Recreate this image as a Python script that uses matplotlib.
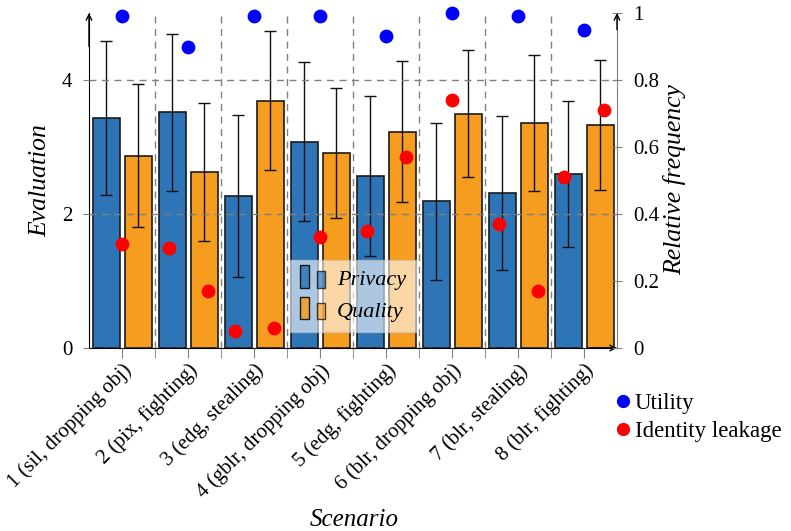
import matplotlib
matplotlib.use("Agg")
import matplotlib.pyplot as plt
import numpy as np
from matplotlib.legend_handler import HandlerBase
from matplotlib.lines import Line2D
from matplotlib.patches import Rectangle

plt.rcParams["font.family"] = ["Liberation Serif", "DejaVu Serif"]

scenarios = [
    "1 (sil, dropping obj)",
    "2 (pix, fighting)",
    "3 (edg, stealing)",
    "4 (gblr, dropping obj)",
    "5 (edg, fighting)",
    "6 (blr, dropping obj)",
    "7 (blr, stealing)",
    "8 (blr, fighting)",
]
privacy_mean = [3.43, 3.52, 2.27, 3.08, 2.57, 2.19, 2.31, 2.60]
privacy_std = [1.15, 1.17, 1.21, 1.19, 1.19, 1.17, 1.15, 1.09]
quality_mean = [2.87, 2.62, 3.69, 2.91, 3.23, 3.50, 3.36, 3.33]
quality_std = [1.07, 1.03, 1.04, 0.97, 1.05, 0.95, 1.02, 0.97]
utility = [0.99, 0.90, 0.99, 0.99, 0.93, 1.00, 0.99, 0.95]
leak_x = [0, 0.71, 1.30, 1.71, 2.30, 3.0, 3.71, 4.30, 5.0, 5.71, 6.30, 6.70, 7.30]
leak_y = [0.31, 0.30, 0.17, 0.05, 0.06, 0.33, 0.35, 0.57, 0.74, 0.37, 0.17, 0.51, 0.71]

BLUE = "#2e75b8"
ORANGE = "#f69c1f"


class TwoBars(HandlerBase):
    # pgfplots style ybar legend glyph: two small bars
    def create_artists(self, legend, orig_handle, xdescent, ydescent,
                       width, height, fontsize, trans):
        fc = orig_handle.get_facecolor()
        w = width * 0.33
        y0 = -ydescent - 0.15 * height
        a = Rectangle((-xdescent, y0), w, height * 1.45, facecolor=fc,
                      edgecolor="black", lw=1, alpha=0.85, transform=trans)
        b = Rectangle((-xdescent + width * 0.62, y0), w, height * 1.05,
                      facecolor=fc, edgecolor="black", lw=1, alpha=0.7,
                      transform=trans)
        return [a, b]


fig = plt.figure(figsize=(7.91, 5.31), dpi=100)
ax = fig.add_axes([0.1125, 0.3446, 0.6675, 0.6309])
ax2 = ax.twinx()

x = np.arange(len(scenarios))
err_kw = dict(elinewidth=1, capthick=1, ecolor="#111111")
ax.bar(x - 0.24, privacy_mean, 0.41, yerr=privacy_std, color=BLUE,
       edgecolor="#1a1a1a", lw=1.2, capsize=4, error_kw=err_kw)
ax.bar(x + 0.245, quality_mean, 0.41, yerr=quality_std, color=ORANGE,
       edgecolor="#1a1a1a", lw=1.2, capsize=4, error_kw=err_kw)

ax2.scatter(x, utility, s=80, color="blue", zorder=5, clip_on=False)
ax2.scatter(leak_x, leak_y, s=80, color="red", zorder=5, clip_on=False)

ax.set_xlim(-0.5, 7.5)
ax.set_ylim(0, 5)
ax2.set_ylim(0, 1)

ax.set_yticks([0, 2, 4])
ax.set_xticks(x)
ax.set_xticks(x[:-1] + 0.5, minor=True)
ax.set_xticklabels(scenarios, rotation=45, ha="right", va="top",
                   rotation_mode="anchor")
ax2.set_yticks([0, 0.2, 0.4, 0.6, 0.8, 1.0])
ax2.set_yticklabels(["0", "0.2", "0.4", "0.6", "0.8", "1"])

ax.set_axisbelow(False)
ax.yaxis.grid(True, ls=(0, (5, 4)), color="#808080", lw=1)
ax.xaxis.grid(True, which="minor", ls=(0, (5, 4)), color="#808080", lw=1)

ax.tick_params(axis="y", direction="out", length=4, color="#808080",
               labelsize=15, pad=8)
ax.tick_params(axis="x", which="both", direction="out", length=7,
               color="#808080", labelsize=15, pad=2)
ax2.tick_params(axis="y", direction="inout", length=7, color="#808080",
                labelsize=15, pad=8)

for s in ("top", "right"):
    ax.spines[s].set_visible(False)
for s in ("top", "left", "bottom"):
    ax2.spines[s].set_visible(False)
ax2.spines["right"].set_color("#808080")

arrow = dict(arrowstyle="->", lw=1, color="black", shrinkA=0, shrinkB=0)
ax.annotate("", xy=(0, 1), xytext=(0, 0.9), xycoords="axes fraction", arrowprops=arrow)
ax.annotate("", xy=(1, 0), xytext=(0.95, 0), xycoords="axes fraction", arrowprops=arrow)
ax2.annotate("", xy=(1, 1), xytext=(1, 0.95), xycoords="axes fraction", arrowprops=arrow)

fig.text(40 / 791, 1 - 181 / 531, "Evaluation", fontsize=18.5, style="italic",
         rotation=90, ha="center", va="center")
fig.text(675 / 791, 1 - 180 / 531, "Relative frequency", fontsize=18.5,
         style="italic", rotation=90, ha="center", va="center")
fig.text(354 / 791, 1 - 526 / 531, "Scenario", fontsize=18, style="italic",
         ha="center", va="baseline")

hp = Rectangle((0, 0), 1, 1, facecolor=BLUE)
hq = Rectangle((0, 0), 1, 1, facecolor=ORANGE)
leg = ax2.legend([hp, hq], ["Privacy", "Quality"],
                 handler_map={hp: TwoBars(), hq: TwoBars()},
                 loc="lower center", bbox_to_anchor=(0.5, 0.015),
                 prop={"style": "italic", "size": 16}, fancybox=False,
                 framealpha=0.6, edgecolor="#c8c8c8", handlelength=1.2,
                 handletextpad=0.45, borderpad=0.45, labelspacing=0.5)
leg.set_zorder(10)

dots = [Line2D([], [], marker="o", ls="none", color="blue", markersize=8.5),
        Line2D([], [], marker="o", ls="none", color="red", markersize=8.5)]
fig.legend(dots, ["Utility", "Identity leakage"], loc="upper left",
           bbox_to_anchor=(605 / 791, 1 - 384 / 531), frameon=False,
           fontsize=16.5, handlelength=0.8, handletextpad=0.1,
           labelspacing=0.3, borderaxespad=0)

fig.savefig("out.png", dpi=100)
